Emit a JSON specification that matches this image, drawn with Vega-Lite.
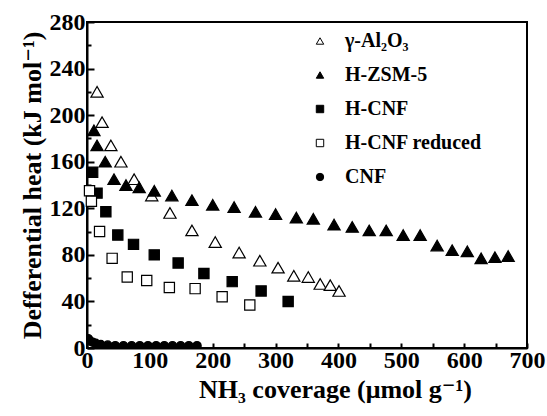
{
  "$schema": "https://vega.github.io/schema/vega-lite/v6.json",
  "width": 440,
  "height": 326,
  "autosize": "none",
  "padding": {"left": 87, "top": 22, "right": 20, "bottom": 68},
  "background": "white",
  "config": {
    "view": {"stroke": "black", "strokeWidth": 2},
    "font": "Liberation Serif, Times New Roman, Tinos, DejaVu Serif, serif",
    "legend": {
      "orient": "none", "legendX": 223, "legendY": 9, "title": null,
      "labelFont": "Liberation Serif, Times New Roman, Tinos, DejaVu Serif, serif",
      "labelFontWeight": "bold", "labelFontSize": 20, "labelColor": "black",
      "symbolSize": 55, "symbolStrokeWidth": 1, "rowPadding": 14, "labelOffset": 15
    }
  },
  "data": {
    "values": [
      {"s": "γ-Al₂O₃", "x": 16, "y": 220}, {"s": "γ-Al₂O₃", "x": 24, "y": 194}, {"s": "γ-Al₂O₃", "x": 38, "y": 174},
      {"s": "γ-Al₂O₃", "x": 54, "y": 160}, {"s": "γ-Al₂O₃", "x": 75, "y": 145}, {"s": "γ-Al₂O₃", "x": 103, "y": 131},
      {"s": "γ-Al₂O₃", "x": 132, "y": 116}, {"s": "γ-Al₂O₃", "x": 167, "y": 101}, {"s": "γ-Al₂O₃", "x": 204, "y": 91},
      {"s": "γ-Al₂O₃", "x": 242, "y": 82}, {"s": "γ-Al₂O₃", "x": 275, "y": 75}, {"s": "γ-Al₂O₃", "x": 304, "y": 69},
      {"s": "γ-Al₂O₃", "x": 329, "y": 62}, {"s": "γ-Al₂O₃", "x": 352, "y": 61}, {"s": "γ-Al₂O₃", "x": 371, "y": 55},
      {"s": "γ-Al₂O₃", "x": 387, "y": 54}, {"s": "γ-Al₂O₃", "x": 401, "y": 49},
      {"s": "H-ZSM-5", "x": 11, "y": 187}, {"s": "H-ZSM-5", "x": 16, "y": 174}, {"s": "H-ZSM-5", "x": 29, "y": 160},
      {"s": "H-ZSM-5", "x": 43, "y": 145}, {"s": "H-ZSM-5", "x": 62, "y": 140}, {"s": "H-ZSM-5", "x": 83, "y": 138},
      {"s": "H-ZSM-5", "x": 107, "y": 135}, {"s": "H-ZSM-5", "x": 135, "y": 131}, {"s": "H-ZSM-5", "x": 167, "y": 127},
      {"s": "H-ZSM-5", "x": 200, "y": 123}, {"s": "H-ZSM-5", "x": 234, "y": 121}, {"s": "H-ZSM-5", "x": 268, "y": 117},
      {"s": "H-ZSM-5", "x": 300, "y": 115}, {"s": "H-ZSM-5", "x": 333, "y": 112}, {"s": "H-ZSM-5", "x": 360, "y": 111},
      {"s": "H-ZSM-5", "x": 393, "y": 106}, {"s": "H-ZSM-5", "x": 422, "y": 104}, {"s": "H-ZSM-5", "x": 449, "y": 101},
      {"s": "H-ZSM-5", "x": 476, "y": 101}, {"s": "H-ZSM-5", "x": 503, "y": 97}, {"s": "H-ZSM-5", "x": 530, "y": 97},
      {"s": "H-ZSM-5", "x": 557, "y": 88}, {"s": "H-ZSM-5", "x": 581, "y": 84}, {"s": "H-ZSM-5", "x": 605, "y": 83},
      {"s": "H-ZSM-5", "x": 627, "y": 77}, {"s": "H-ZSM-5", "x": 649, "y": 78}, {"s": "H-ZSM-5", "x": 670, "y": 79},
      {"s": "H-CNF", "x": 9, "y": 151}, {"s": "H-CNF", "x": 16, "y": 133}, {"s": "H-CNF", "x": 30, "y": 117},
      {"s": "H-CNF", "x": 49, "y": 97}, {"s": "H-CNF", "x": 74, "y": 89}, {"s": "H-CNF", "x": 107, "y": 80},
      {"s": "H-CNF", "x": 145, "y": 73}, {"s": "H-CNF", "x": 186, "y": 64}, {"s": "H-CNF", "x": 231, "y": 57},
      {"s": "H-CNF", "x": 277, "y": 49}, {"s": "H-CNF", "x": 320, "y": 40},
      {"s": "H-CNF reduced", "x": 4, "y": 135}, {"s": "H-CNF reduced", "x": 7, "y": 126}, {"s": "H-CNF reduced", "x": 20, "y": 100},
      {"s": "H-CNF reduced", "x": 40, "y": 77}, {"s": "H-CNF reduced", "x": 64, "y": 61}, {"s": "H-CNF reduced", "x": 95, "y": 58},
      {"s": "H-CNF reduced", "x": 131, "y": 52}, {"s": "H-CNF reduced", "x": 172, "y": 51}, {"s": "H-CNF reduced", "x": 215, "y": 44},
      {"s": "H-CNF reduced", "x": 259, "y": 37},
      {"s": "CNF", "x": 2, "y": 8}, {"s": "CNF", "x": 5, "y": 6}, {"s": "CNF", "x": 9, "y": 5}, {"s": "CNF", "x": 14, "y": 4},
      {"s": "CNF", "x": 22, "y": 3}, {"s": "CNF", "x": 33, "y": 2.5}, {"s": "CNF", "x": 45, "y": 2}, {"s": "CNF", "x": 58, "y": 2},
      {"s": "CNF", "x": 71, "y": 2}, {"s": "CNF", "x": 84, "y": 2}, {"s": "CNF", "x": 97, "y": 2}, {"s": "CNF", "x": 110, "y": 2},
      {"s": "CNF", "x": 123, "y": 2}, {"s": "CNF", "x": 136, "y": 2}, {"s": "CNF", "x": 149, "y": 2}, {"s": "CNF", "x": 162, "y": 2},
      {"s": "CNF", "x": 175, "y": 2}
    ]
  },
  "encoding": {
    "x": {
      "field": "x", "type": "quantitative",
      "scale": {"domain": [0, 700], "nice": false},
      "axis": {
        "values": [0, 50, 100, 150, 200, 250, 300, 350, 400, 450, 500, 550, 600, 650, 700],
        "labelExpr": "datum.value % 100 === 0 ? datum.label : ''",
        "format": "d",
        "grid": false, "domain": true, "domainColor": "black", "domainWidth": 2,
        "tickColor": "black", "tickWidth": 2, "tickSize": -5,
        "labelFont": "Liberation Serif, Times New Roman, Tinos, DejaVu Serif, serif", "labelFontWeight": "bold", "labelFontSize": 24, "labelColor": "black",
        "labelPadding": 5, "labelFlush": false, "labelOverlap": false,
        "title": "NH₃ coverage (μmol g⁻¹)",
        "titleFont": "Liberation Serif, Times New Roman, Tinos, DejaVu Serif, serif", "titleFontWeight": "bold", "titleFontSize": 26, "titleColor": "black",
        "titlePadding": 4, "titleX": 248
      }
    },
    "y": {
      "field": "y", "type": "quantitative",
      "scale": {"domain": [0, 280], "nice": false},
      "axis": {
        "values": [0, 20, 40, 60, 80, 100, 120, 140, 160, 180, 200, 220, 240, 260, 280],
        "labelExpr": "datum.value % 40 === 0 ? datum.label : ''",
        "grid": false, "domain": true, "domainColor": "black", "domainWidth": 2,
        "tickColor": "black", "tickWidth": 2,
        "tickSize": {"condition": {"test": "datum.value % 40 === 0", "value": -7}, "value": -4},
        "labelFont": "Liberation Serif, Times New Roman, Tinos, DejaVu Serif, serif", "labelFontWeight": "bold", "labelFontSize": 24, "labelColor": "black",
        "labelPadding": 9, "labelFlush": false, "labelOverlap": false, "labelBaseline": "middle",
        "title": "Defferential heat (kJ mol⁻¹)",
        "titleFont": "Liberation Serif, Times New Roman, Tinos, DejaVu Serif, serif", "titleFontWeight": "bold", "titleFontSize": 26, "titleColor": "black",
        "titlePadding": 4
      }
    },
    "shape": {
      "field": "s", "type": "nominal",
      "scale": {"domain": ["γ-Al₂O₃", "H-ZSM-5", "H-CNF", "H-CNF reduced", "CNF"], "range": ["triangle-up", "triangle-up", "square", "square", "circle"]}
    },
    "fill": {
      "field": "s", "type": "nominal",
      "scale": {"domain": ["γ-Al₂O₃", "H-ZSM-5", "H-CNF", "H-CNF reduced", "CNF"], "range": ["white", "black", "black", "white", "black"]}
    },
    "stroke": {
      "field": "s", "type": "nominal",
      "scale": {"domain": ["γ-Al₂O₃", "H-ZSM-5", "H-CNF", "H-CNF reduced", "CNF"], "range": ["black", "black", "black", "black", "black"]}
    }
  },
  "layer": [
    {
      "transform": [{"filter": "datum.s === 'γ-Al₂O₃' || datum.s === 'H-ZSM-5'"}],
      "mark": {"type": "point", "filled": false, "strokeWidth": 1.2, "opacity": 1, "size": 150}
    },
    {
      "transform": [{"filter": "datum.s === 'H-CNF' || datum.s === 'H-CNF reduced'"}],
      "mark": {"type": "point", "filled": false, "strokeWidth": 1.2, "opacity": 1, "size": 105}
    },
    {
      "transform": [{"filter": "datum.s === 'CNF'"}],
      "mark": {"type": "point", "filled": false, "strokeWidth": 1.2, "opacity": 1, "size": 70, "clip": true}
    }
  ]
}
